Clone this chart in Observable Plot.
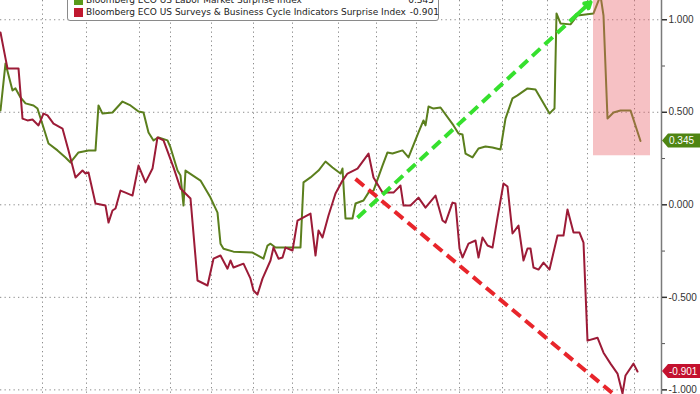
<!DOCTYPE html>
<html><head><meta charset="utf-8">
<script src="https://cdn.jsdelivr.net/npm/d3@7"></script>
<script src="https://cdn.jsdelivr.net/npm/@observablehq/plot@0.6"></script>
<style>
html,body{margin:0;padding:0;background:#fff;}
#wrap{position:relative;width:700px;height:394px;overflow:hidden;font-family:"Liberation Sans",Arial,sans-serif;}
#legend{position:absolute;left:67px;top:-9px;width:372px;box-sizing:border-box;padding:2px 4px 2px 6px;border:1px solid #8a8a8a;border-radius:3px;background:#fff;font-family:"DejaVu Sans",sans-serif;font-size:9px;color:#222;}
.row{display:flex;align-items:center;height:12px;white-space:nowrap;}
.sw{width:9px;height:9px;margin-right:3px;flex:none;}
.nm{flex:none;}
.val{margin-left:auto;padding-left:4px;text-align:right;flex:none;}
</style></head>
<body><div id="wrap"><div id="chart"></div><div id="legend"></div></div>
<script>
// Series names and last values
const seriesNames = ["Bloomberg ECO US Labor Market Surprise Index", "Bloomberg ECO US Surveys & Business Cycle Indicators Surprise Index"];
const lastValues = [0.345, -0.901];
const seriesColors = ["#5b7f1d", "#9c1b37"];
const swatchColors = ["#5a9a1a", "#c0182f"];

// Labor Market Surprise Index (x = observation position, v = index value)
const laborX = [0,5,12,15,20,25,33,37,43,48,57,65,70,78,88,95,98,102,112,122,130,138,143,148,153,158,167,170,177,180,183,185,200,210,217,220,223,233,252,263,267,270,275,287,300,303,310,318,325,332,340,342,345,352,355,363,368,373,382,387,392,402,408,418,423,425,428,433,440,453,458,462,465,472,478,485,492,500,505,512,517,527,535,549,552,554,556,560,570,577,593,600,603,607,613,620,630,640];
const laborV = [0.510,0.764,0.618,0.629,0.580,0.548,0.537,0.520,0.418,0.331,0.294,0.256,0.229,0.283,0.294,0.294,0.537,0.493,0.499,0.558,0.537,0.504,0.499,0.391,0.348,0.364,0.348,0.310,0.185,0.158,-0.004,0.185,0.131,0.039,-0.042,-0.210,-0.237,-0.253,-0.258,-0.291,-0.220,-0.210,-0.231,-0.231,-0.231,0.121,0.148,0.185,0.234,0.202,0.169,0.196,-0.074,-0.074,0.007,0.023,0.066,0.077,0.212,0.283,0.277,0.294,0.256,0.391,0.456,0.429,0.531,0.520,0.526,0.429,0.385,0.380,0.277,0.256,0.304,0.315,0.310,0.299,0.466,0.575,0.591,0.629,0.623,0.493,0.510,0.520,1.034,0.980,0.975,1.023,1.034,1.131,1.023,0.466,0.499,0.510,0.510,0.345];

// Surveys & Business Cycle Indicators Surprise Index
const surveysX = [0,5,7,18,22,27,32,38,43,47,53,62,68,75,82,85,88,95,105,108,112,115,120,125,132,138,145,152,157,163,173,180,190,197,207,213,220,227,230,233,243,250,253,257,262,270,273,278,282,285,292,297,310,315,318,322,328,335,342,347,357,368,373,382,393,400,403,410,418,425,435,442,445,452,455,459,462,468,475,478,482,487,492,497,503,507,512,518,523,527,530,533,538,543,549,557,563,567,573,579,583,587,597,603,610,617,622,625,633,637];
const surveysV = [0.931,0.791,0.737,0.737,0.466,0.456,0.461,0.429,0.493,0.483,0.439,0.412,0.294,0.148,0.185,0.169,0.175,0.007,-0.004,-0.096,-0.031,-0.020,0.077,0.066,0.050,0.212,0.121,0.196,0.364,0.348,0.202,0.088,0.034,-0.409,-0.436,-0.291,-0.274,-0.345,-0.301,-0.339,-0.318,-0.399,-0.463,-0.485,-0.399,-0.301,-0.231,-0.291,-0.285,-0.231,-0.247,-0.085,-0.047,-0.274,-0.139,-0.177,-0.058,0.061,0.131,0.169,0.196,0.277,0.148,0.066,0.066,0.104,-0.004,-0.004,0.039,-0.015,0.050,-0.085,-0.096,0.012,0.007,-0.236,-0.285,-0.210,-0.193,-0.285,-0.177,-0.220,-0.231,-0.069,0.115,0.099,-0.155,-0.112,-0.301,-0.236,-0.236,-0.339,-0.350,-0.312,-0.350,-0.166,-0.166,-0.025,-0.150,-0.150,-0.204,-0.734,-0.718,-0.799,-0.858,-0.912,-1.020,-0.922,-0.858,-0.901];

// Grid / axis
const gridX = [42,86,139,170,211,253,292,338,376,416,459,502,547,587,634];
const yTicks = [-1, -0.5, 0, 0.5, 1];
const yMinor = [-0.75, -0.25, 0.25, 0.75];

// Annotations (data units)
const shadeBox = [{x1: 593, x2: 650, y1: 0.265, y2: 1.3}];
const upTrend = [{x1: 357, y1: -0.07, x2: 580, y2: 1.045}];
const upHead = [{x1: 576, y1: 1.025, x2: 590, y2: 1.095}];
const downTrend = [{x1: 355, y1: 0.14, x2: 628, y2: -1.09}];

const labor = laborX.map((x, i) => ({x, v: laborV[i]}));
const surveys = surveysX.map((x, i) => ({x, v: surveysV[i]}));

const plot = Plot.plot({
  width: 700, height: 394,
  marginLeft: 0, marginRight: 39, marginTop: 0, marginBottom: 0,
  style: {fontFamily: "Liberation Sans, Arial, sans-serif", background: "#fff"},
  x: {domain: [0, 661], axis: null},
  y: {domain: [-1.025, 1.104], axis: null},
  marks: [
    Plot.ruleX(gridX, {stroke: "#8c8c8c", strokeDasharray: "1.3,3.2", strokeWidth: 1}),
    Plot.ruleY(yTicks, {stroke: "#8c8c8c", strokeDasharray: "1.3,3.2", strokeWidth: 1}),
    Plot.line(labor, {x: "x", y: "v", stroke: seriesColors[0], strokeWidth: 2, clip: true}),
    Plot.line(surveys, {x: "x", y: "v", stroke: seriesColors[1], strokeWidth: 2, clip: true}),
    Plot.link(downTrend, {x1: "x1", y1: "y1", x2: "x2", y2: "y2", stroke: "#e8252b", strokeWidth: 4, strokeDasharray: "11,6", clip: true}),
    Plot.link(upTrend, {x1: "x1", y1: "y1", x2: "x2", y2: "y2", stroke: "#36e02e", strokeWidth: 4, strokeDasharray: "11,6"}),
    Plot.arrow(upHead, {x1: "x1", y1: "y1", x2: "x2", y2: "y2", stroke: "#36e02e", strokeWidth: 4, headLength: 10}),
    Plot.rect(shadeBox, {x1: "x1", x2: "x2", y1: "y1", y2: "y2", fill: "#e8646c", fillOpacity: 0.4, clip: true}),
    Plot.frame({anchor: "right", stroke: "#7a7a7a", strokeWidth: 1.5}),
    Plot.axisY(yTicks, {anchor: "right", tickSize: 5, tickPadding: 2, fontSize: 10, color: "#333", stroke: "#333", tickFormat: d => d.toFixed(3), strokeWidth: 1.5}),
    Plot.axisY(yMinor, {anchor: "right", tickSize: 3, tickFormat: () => "", stroke: "#555"})
  ]
});
document.getElementById("chart").appendChild(plot);

// Last-value tags on the right axis, placed with the plot's y scale
const ys = plot.scale("y");
const svg = d3.select(plot);
const tagFills = ["#4f8513", "#c3112e"];
lastValues.forEach((v, i) => {
  const y = ys.apply(v);
  const g = svg.append("g");
  g.append("path")
    .attr("d", `M662,${y} L668,${y - 7} L700,${y - 7} L700,${y + 7} L668,${y + 7} Z`)
    .attr("fill", tagFills[i]);
  g.append("text").attr("x", 669).attr("y", y).attr("dy", "0.35em")
    .attr("text-anchor", "start")
    .attr("fill", "#fff").attr("font-size", 10)
    .text(v.toFixed(3));
});

// Legend (top-left, partly cut off like the original)
const legend = d3.select("#legend");
seriesNames.forEach((name, i) => {
  const row = legend.append("div").attr("class", "row");
  row.append("div").attr("class", "sw").style("background", swatchColors[i]);
  row.append("div").attr("class", "nm").text(name);
  row.append("div").attr("class", "val").text(lastValues[i].toFixed(3));
});
</script>
</body></html>
